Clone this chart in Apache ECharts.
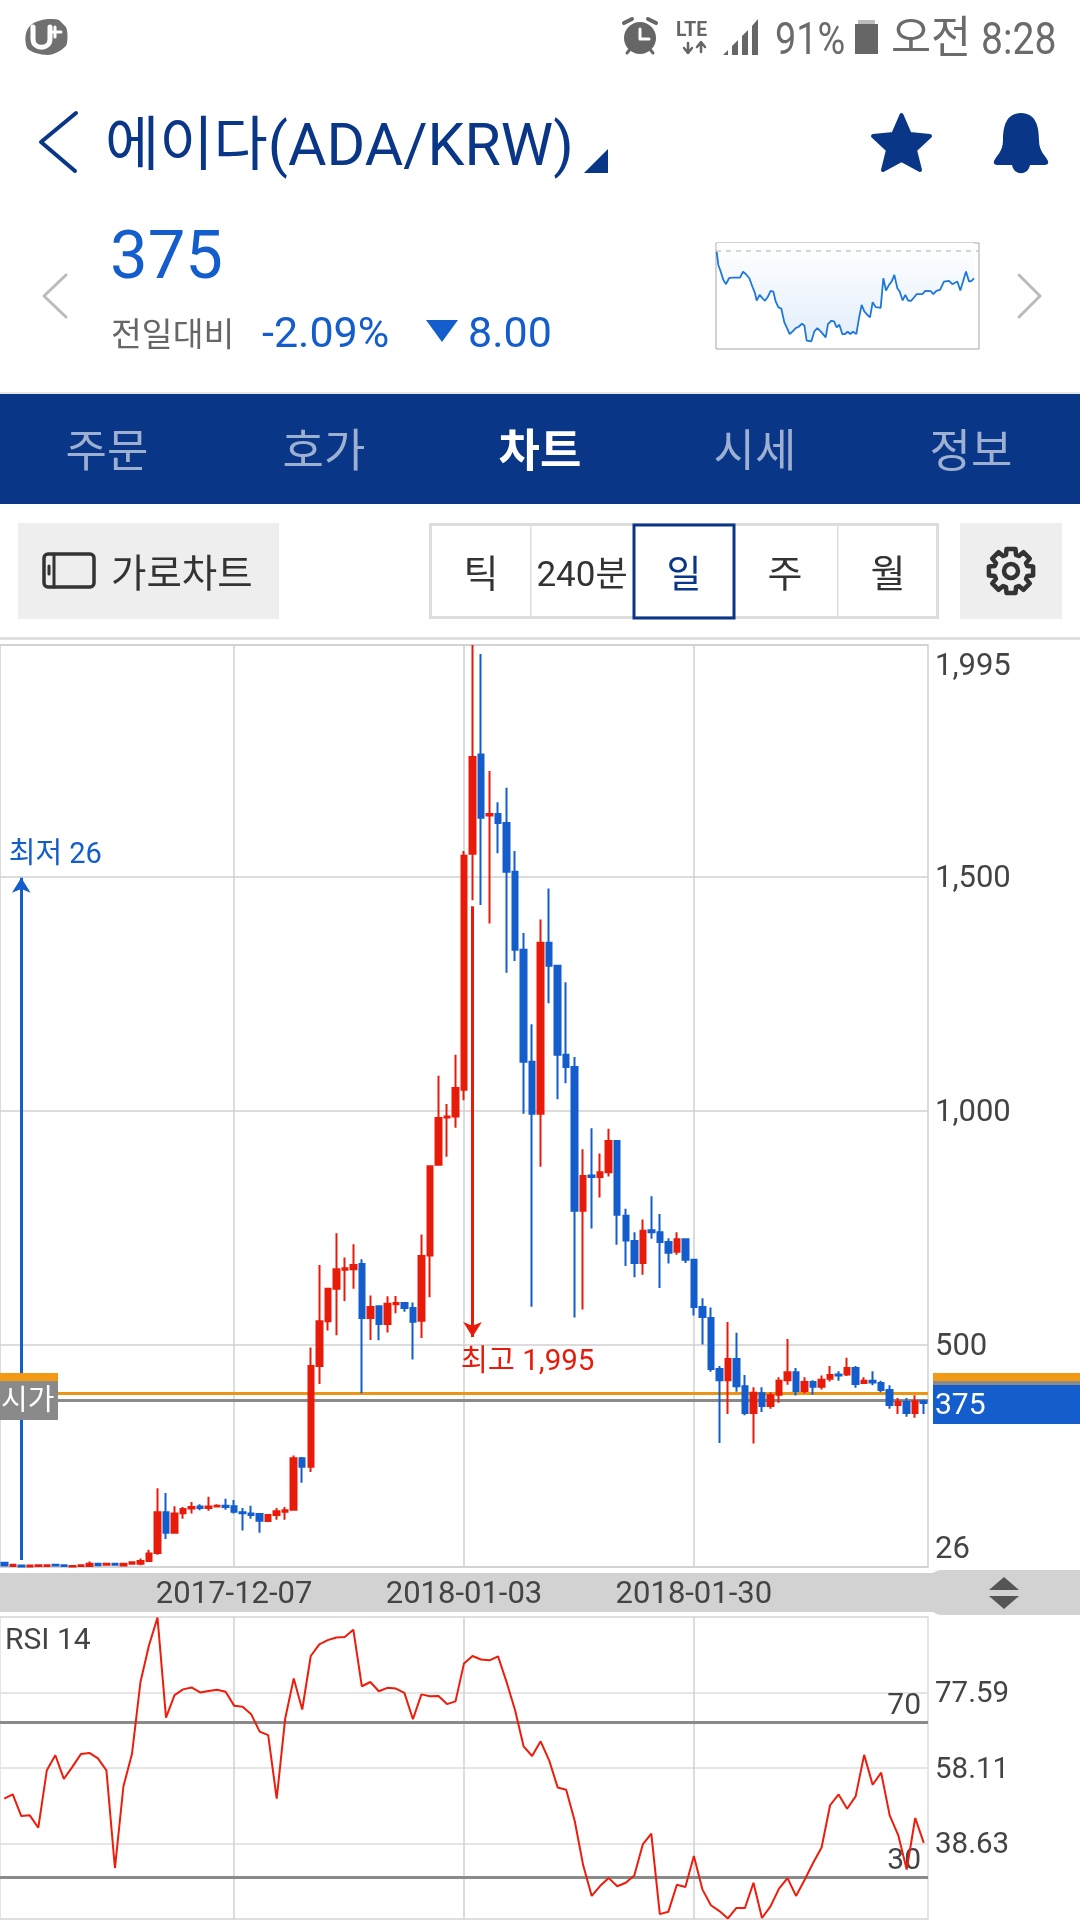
<!DOCTYPE html>
<html><head><meta charset="utf-8">
<style>html,body{margin:0;padding:0;background:#fff}#c{width:1080px;height:1920px}</style>
<script src="https://cdn.jsdelivr.net/npm/echarts@6/dist/echarts.min.js"></script>
</head><body><div id="c"></div>
<script>
const dates=[
'2017-11-10','2017-11-11','2017-11-12','2017-11-13','2017-11-14','2017-11-15','2017-11-16','2017-11-17','2017-11-18','2017-11-19',
'2017-11-20','2017-11-21','2017-11-22','2017-11-23','2017-11-24','2017-11-25','2017-11-26','2017-11-27','2017-11-28','2017-11-29','2017-11-30',
'2017-12-01','2017-12-02','2017-12-03','2017-12-04','2017-12-05','2017-12-06','2017-12-07','2017-12-08','2017-12-09','2017-12-10',
'2017-12-11','2017-12-12','2017-12-13','2017-12-14','2017-12-15','2017-12-16','2017-12-17','2017-12-18','2017-12-19','2017-12-20',
'2017-12-21','2017-12-22','2017-12-23','2017-12-24','2017-12-25','2017-12-26','2017-12-27','2017-12-28','2017-12-29','2017-12-30','2017-12-31',
'2018-01-01','2018-01-02','2018-01-03','2018-01-04','2018-01-05','2018-01-06','2018-01-07','2018-01-08','2018-01-09','2018-01-10',
'2018-01-11','2018-01-12','2018-01-13','2018-01-14','2018-01-15','2018-01-16','2018-01-17','2018-01-18','2018-01-19','2018-01-20',
'2018-01-21','2018-01-22','2018-01-23','2018-01-24','2018-01-25','2018-01-26','2018-01-27','2018-01-28','2018-01-29','2018-01-30','2018-01-31',
'2018-02-01','2018-02-02','2018-02-03','2018-02-04','2018-02-05','2018-02-06','2018-02-07','2018-02-08','2018-02-09','2018-02-10',
'2018-02-11','2018-02-12','2018-02-13','2018-02-14','2018-02-15','2018-02-16','2018-02-17','2018-02-18','2018-02-19','2018-02-20',
'2018-02-21','2018-02-22','2018-02-23','2018-02-24','2018-02-25','2018-02-26'];
const shownDates=['2017-12-07','2018-01-03','2018-01-30'];
const openPrices=[35,28,29,27,28,28,31,30,27,28,28,33,31,33,29,33,33,39,56,143,
99,141,151,155,152,155,157,156,143,140,139,124,137,144,148,258,240,455,551,620,
661,662,673,558,583,545,587,590,579,552,691,885,986,988,1045,1549,1761,1631,1634,1615,
1511,1344,1105,994,1359,1310,1120,1094,787,862,859,869,936,776,722,675,745,741,720,699,
726,682,581,558,449,425,470,412,355,397,370,394,425,442,402,421,411,428,437,437,
451,419,424,419,404,372,379,355,380];
const closePrices=[29,31,27,29,30,30,29,28,28,30,33,30,33,31,33,36,39,55,143,99,
140,150,154,152,155,157,154,144,141,137,125,137,145,147,258,240,455,551,620,662,
664,671,558,581,545,588,590,579,550,690,882,985,988,1049,1545,1756,1626,1634,1615,1511,
1344,1105,994,1359,1310,1120,1094,787,861,859,869,936,778,723,675,744,741,720,697,726,
682,581,560,449,425,470,412,355,398,370,393,424,442,402,421,411,426,436,435,451,
417,424,420,404,372,379,355,380,376];
const lowPrices=[28,27,26,26,27,27,28,26,26,27,27,28,29,29,28,32,30,38,52,86,
99,129,140,147,146,153,148,140,104,129,99,122,127,127,146,206,229,417,531,521,
594,620,397,511,510,527,568,571,469,515,602,883,902,964,1023,1450,1440,1400,1550,1295,
1320,994,582,881,1230,1025,1059,559,576,749,815,860,714,669,645,650,727,622,674,693,
675,563,501,443,291,353,400,350,290,357,364,377,415,392,397,394,405,422,424,434,
409,417,414,399,364,353,347,345,353];
const highPrices=[36,33,29,30,30,31,32,31,29,31,38,34,34,34,34,37,44,63,194,184,
156,154,165,160,176,160,172,169,152,157,139,138,152,154,264,261,495,671,621,739,
687,715,683,606,583,604,605,590,591,736,882,1075,1015,1120,1555,1995,1976,1726,1659,1690,
1555,1380,1185,1409,1475,1310,1275,1115,918,963,909,962,936,791,741,768,818,780,728,741,
726,682,600,580,455,549,526,436,410,410,399,431,513,451,431,425,435,455,444,473,
455,431,444,424,414,387,387,393,383];
const rsiValues=[50.2,51.3,45.7,45.9,42.7,57.5,61.4,55.3,58.4,61.7,62.0,60.6,57.5,32.3,53.4,61.7,80.3,89.8,96.9,71.1,
76.9,78.4,78.9,77.6,78.0,78.3,77.8,74.2,73.9,72.0,67.5,66.6,50.2,70.9,81.2,73.2,87.0,90.0,91.1,91.8,
91.9,93.8,79.2,80.3,77.9,78.8,78.6,77.5,70.7,77.1,76.6,76.7,74.6,75.3,85.1,87.0,86.1,85.9,86.9,80.3,
73.0,63.7,61.2,65.0,60.1,53.1,52.5,44.5,33.0,25.1,27.7,29.7,27.6,28.5,30.4,38.4,41.2,20.4,21.0,28.0,
27.4,35.4,26.8,22.7,21.2,19.3,22.0,22.0,28.5,19.4,22.4,27.0,29.7,25.1,29.2,33.6,37.6,48.5,51.3,47.6,
50.8,61.5,53.8,56.9,45.9,40.8,31.9,45.2,38.8];
const priceTicks=[26,500,1000,1500,1995];
const rsiTicks=[19.15,38.63,58.11,77.59,97.07];
const rsiLabelTicks=[38.63,58.11,77.59];
const sparkDay=[18,23,30,38,46,55,65,78,88,97,106,116,125,133,138,147,155,163,172,180,188,195,203,212,221,229,237,246,255,264,274,281,288,302,311,320,330,345,352,362,370,378,386,395,403,411,419,427,437,445,453,461,470,478,486,495,510,518,526,535,543,551,560,567,576,584,592,601,610,618,635,644,660,668,677,688,700,715,725,740,749,766,775,783,790];
const sparkPrice=[293,253,233,208,195,213,215,215,215,233,225,213,188,168,146,163,153,145,158,175,173,143,126,121,80,63,45,53,63,67,76,71,25,23,53,63,53,35,75,85,83,65,73,45,45,52,45,52,45,93,133,113,103,95,141,126,124,213,176,193,203,223,183,173,146,163,146,145,155,165,165,175,174,165,175,178,203,205,195,203,176,233,203,205,213];
const tabs=['주문','호가','차트','시세','정보'];
const periods=['틱','240분','일','주','월'];

const RED='#E81B0A',BLUE='#135DCC',NAVY='#0A3688',FONT='Roboto,"Noto Sans CJK KR",sans-serif';
const GRID='#d0d0d0',TXT='#444444';
let pathCount=0;
function T(x,y,text,size,fill,align,weight,sx){return {type:'text',x:x,y:y,scaleX:sx||1,z:50,silent:true,style:{text:text,fontSize:size,fontFamily:FONT,fontWeight:weight||400,fill:fill,align:align||'left',verticalAlign:'middle'}};}
function R(x,y,w,h,fill,z,r){return {type:'rect',z:z==null?40:z,silent:true,shape:{x:x,y:y,width:w,height:h,r:r||0},style:{fill:fill}};}
function SR(x,y,w,h,stroke,lw,z){return {type:'rect',z:z||41,silent:true,shape:{x:x,y:y,width:w,height:h},style:{fill:'none',stroke:stroke,lineWidth:lw}};}
function P(d,fill,stroke,lw){const name='icon'+(pathCount++);
 echarts.graphic.registerShape(name,echarts.graphic.extendPath(d,{}));
 return {type:name,z:45,silent:true,style:{fill:fill||'none',stroke:stroke||'none',lineWidth:lw||0,lineJoin:'round',lineCap:'round'}};}
function gearPath(cx,cy,R1,R2){let d='';for(let i=0;i<8;i++){const a=(i*45-90)*Math.PI/180,s=.20,w=.30;
 const p=[[R2,a-w],[R1,a-s],[R1,a+s],[R2,a+w]].map(q=>[(cx+q[0]*Math.cos(q[1])).toFixed(1),(cy+q[0]*Math.sin(q[1])).toFixed(1)]);
 d+=(i==0?'M':'L')+p[0].join(' ')+'L'+p[1].join(' ')+'L'+p[2].join(' ')+'L'+p[3].join(' ');}
 return d+'Z';}

const gfx=[
 P('M31 25 C38 19 52 18 59 20 L66 27 C68 32 68 42 66 46 C60 52 52 55 48 55 C40 55 30 52 27 48 C24 40 25 30 31 25Z','#707070'),
 P('M33 27 L33 39 C33 50 50 50 50 39 L50 27','none','#fff',5),
 P('M55 27 L55 37 M50 32 L61 32','none','#fff',3),
 {type:'circle',z:45,silent:true,shape:{cx:640,cy:38,r:16},style:{fill:'#666'}},
 P('M640 29 L640 39 L649 39','none','#fff',3),
 P('M624 23 L632 19 M656 23 L648 19','none','#666',4),
 P('M627 53 L631 48 M653 53 L649 48','none','#666',3),
 T(676,31,'LTE',21,'#666','left',700,.92),
 P('M688 43 L688 52 M684 48 L688 53 L692 48','none','#666',2.5),
 P('M701 52 L701 43 M697 47 L701 42 L705 47','none','#666',2.5),
 P('M723 55 L728 50 L728 55Z M732 55 L732 46 L738 40 L738 55Z M742 55 L742 36 L748 30 L748 55Z M752 55 L752 26 L758 19 L758 55Z','#666'),
 T(775,43,'91%',44,'#6b6b6b','left',400,.86),
 R(858,20,17,5,'#bdbdbd',45),R(855,24,23,30,'#666',45),
 T(891,42,'오전',44,'#6b6b6b','left',400,.99),
 T(981,43,'8:28',44,'#6b6b6b','left',400,.89),
 P('M76 113 L41 142 L75 171','none',NAVY,4),
 T(105,150,'에이다(ADA/KRW)',59,NAVY),
 P('M608 149 L608 173 L584 173Z',NAVY),
 {type:'polygon',z:45,silent:true,shape:{points:[[901.5,115],[909.7,134],[930,136],[915,150],[920,170],[901.5,160],[883,170],[888,150],[873,136],[893.3,134]]},style:{fill:NAVY,stroke:NAVY,lineWidth:4,lineJoin:'round'}},
 P('M1021 113 C1006 113 1003 127 1003 140 C1003 152 996 156 994 161 C993 165 996 165 1000 165 L1042 165 C1046 165 1049 165 1048 161 C1046 156 1039 152 1039 140 C1039 127 1036 113 1021 113Z M1012 165 C1014 176 1028 176 1030 165Z',NAVY),
 T(110,261,'375',67,BLUE),
 T(111,338,'전일대비',33.5,'#666'),
 T(262,336,'-2.09%',43,BLUE),
 P('M426 320 L458 320 L442 342Z',BLUE),
 T(468,336,'8.00',43,BLUE),
 P('M66 275 L44 296 L66 317','none','#bbb',3),
 P('M1019 275 L1040 296 L1019 317','none','#bbb',3),
 R(0,392,1080,3,'#e8e8e8',40),R(0,394,1080,110,NAVY,40),
 R(18,523,261,96,'#eeeeee',40),
 {type:'rect',z:45,silent:true,shape:{x:44,y:554,width:50,height:33,r:4},style:{fill:'none',stroke:'#333',lineWidth:3.5}},
 P('M54 554 L54 587 M49 566 L49 574','none','#333',3),
 T(111,577,'가로차트',38.5,'#333'),
 SR(430.5,524.5,507,93,'#dddddd',3),
 R(530,526,1.5,90,'#dddddd',42),R(837,526,1.5,90,'#dddddd',42),
 SR(634,525,100,93,NAVY,3,43),
 R(960,523,102,96,'#eeeeee',40),
 P(gearPath(1011,571,22.5,17),'none','#333',4.5),
 {type:'circle',z:45,silent:true,shape:{cx:1011,cy:571,r:7},style:{fill:'none',stroke:'#333',lineWidth:4.5}},
 R(0,637,1080,3,'#e0e0e0',40),
 R(0,1573,945,39,'#d2d2d2',-1),
 R(928,1570,170,45,'#d2d2d2',-1,14),
 P('M1004 1577 L1019 1590 L989 1590Z','#555'),
 P('M1004 1609 L1019 1596 L989 1596Z','#555'),
 R(933,1373,147,8,'#F29A16',40),R(933,1381,147,4,'#8a8a8a',40),R(933,1385,147,39,BLUE,40),
 T(935,1406,'375',30,'#fff'),
 R(0,1373,58,8,'#F29A16',40),R(0,1381,58,39,'#8a8a8a',40),
 T(1,1403,'시가',29,'#fff'),
 T(5,1641,'RSI 14',30,TXT),
];
tabs.forEach((t,i)=>gfx.push(T([107,324,540,755,971][i],456,t,45,i==2?'#fff':'#9DB0D2','center',i==2?700:400)));
periods.forEach((t,i)=>gfx.push(T([481,582,684,785,888][i],577,t,i==1?35:38,i==2?NAVY:'#333','center',400)));

const candles=dates.map((d,i)=>[openPrices[i],closePrices[i],lowPrices[i],highPrices[i]]);
const axisText={color:TXT,fontSize:31,fontFamily:FONT};
const richText={color:TXT,fontSize:31,fontFamily:FONT};
const showIdx=(i,v)=>shownDates.indexOf(v)>=0;
const priceLabel=v=>{const s=Number(v).toLocaleString('en-US');const n=Number(v);
 return n>=1995?'{t|'+s+'}':n<=26?'{b|'+s+'}':'{m|'+s+'}';};

const option={
 animation:false,backgroundColor:'#fff',
 graphic:{elements:gfx},
 grid:[
  {left:0,top:645,width:928,height:922,show:true,borderColor:GRID,borderWidth:1.5,containLabel:false},
  {left:0,top:1617,width:928,height:302,show:true,borderColor:'#dddddd',borderWidth:1.5,containLabel:false},
  {left:716,top:243,width:263,height:106,show:true,borderColor:'#a5a5a5',borderWidth:1,containLabel:false}
 ],
 xAxis:[
  {type:'category',gridIndex:0,data:dates,boundaryGap:true,axisLine:{show:false},axisTick:{show:false},
   axisLabel:{...axisText,interval:showIdx,margin:13},splitLine:{show:true,interval:showIdx,alignWithLabel:true,lineStyle:{color:GRID,width:1.5}}},
  {type:'category',gridIndex:1,data:dates,boundaryGap:true,axisLine:{show:false},axisTick:{show:false},
   axisLabel:{show:false},splitLine:{show:true,interval:showIdx,alignWithLabel:true,lineStyle:{color:GRID,width:1.5}}},
  {type:'value',gridIndex:2,min:16,max:805,show:false}
 ],
 yAxis:[
  {type:'value',gridIndex:0,position:'right',min:26,max:1995,axisLine:{show:false},
   axisTick:{show:false,customValues:priceTicks},
   axisLabel:{...axisText,customValues:priceTicks,margin:7,verticalAlignMaxLabel:'top',verticalAlignMinLabel:'bottom',formatter:priceLabel,
    rich:{t:{...richText,lineHeight:45},b:{...richText,lineHeight:33},m:{...richText,padding:[5,0,0,0]}}},
   splitLine:{show:true,lineStyle:{color:GRID,width:1.5}}},
  {type:'value',gridIndex:1,position:'right',min:19.15,max:97.07,axisLine:{show:false},
   axisTick:{show:false,customValues:rsiTicks},
   axisLabel:{...axisText,fontSize:29.5,customValues:rsiLabelTicks,margin:7,formatter:v=>'{m|'+Number(v).toFixed(2)+'}',
    rich:{m:{...richText,fontSize:29.5,padding:[5,0,0,0]}}},
   splitLine:{show:true,lineStyle:{color:'#dddddd',width:1.5}}},
  {type:'value',gridIndex:2,min:0,max:319,show:false}
 ],
 series:[
  {type:'candlestick',name:'에이다',xAxisIndex:0,yAxisIndex:0,data:candles,barWidth:6,z:3,
   itemStyle:{color:RED,color0:BLUE,borderColor:RED,borderColor0:BLUE,borderColorDoji:RED,borderWidth:2},
   markLine:{silent:true,z:1,symbol:'none',animation:false,label:{show:false},data:[
    {yAxis:397,lineStyle:{color:'#EC9513',width:3,type:'solid'},label:{show:false}},
    {yAxis:383,lineStyle:{color:'#8a8a8a',width:3,type:'solid'},label:{show:false}},
    [{coord:[2,41],symbol:'none',lineStyle:{color:BLUE,width:3,type:'solid'},label:{show:false}},{coord:[2,1498],symbol:'arrow',symbolSize:[14,15]}],
    [{coord:[55,1437],symbol:'none',lineStyle:{color:RED,width:3,type:'solid'},label:{show:false}},{coord:[55,517],symbol:'arrow',symbolSize:[14,15]}]
   ]},
   markPoint:{silent:true,symbol:'circle',symbolSize:0,animation:false,data:[
    {coord:[2,1553],label:{show:true,position:'inside',offset:[34,3.5],formatter:'최저 26',color:BLUE,fontSize:29,fontFamily:FONT}},
    {coord:[55,517],label:{show:true,position:'inside',offset:[55,25.5],formatter:'최고 1,995',color:RED,fontSize:29.5,fontFamily:FONT}}
   ]}},
  {type:'line',name:'RSI 14',xAxisIndex:1,yAxisIndex:1,data:rsiValues,showSymbol:false,symbol:'none',z:3,
   lineStyle:{color:'#EE1C0A',width:2},
   markLine:{silent:true,z:1,symbol:'none',animation:false,lineStyle:{color:'#8a8a8a',width:3,type:'solid'},
    label:{position:'insideEndTop',color:TXT,fontSize:30,fontFamily:FONT,distance:[7,0.5],formatter:'{c}'},
    data:[{yAxis:70},{yAxis:30}]}},
  {type:'line',name:'스파크',xAxisIndex:2,yAxisIndex:2,data:sparkDay.map((d,i)=>[d,sparkPrice[i]]),showSymbol:false,symbol:'none',
   lineStyle:{color:'#1C78DA',width:1.8},
   areaStyle:{origin:'end',opacity:1,color:{type:'linear',x:0,y:0,x2:0,y2:1,colorStops:[{offset:0,color:'#ffffff'},{offset:1,color:'#E3EEFB'}]}},
   markLine:{silent:true,symbol:'none',animation:false,label:{show:false},lineStyle:{color:'#c8c8c8',width:1.5,type:[5,5]},data:[{yAxis:295}]}}
 ]
};
const chart=echarts.init(document.getElementById('c'),null,{renderer:'canvas',width:1080,height:1920});
chart.setOption(option);
</script></body></html>
